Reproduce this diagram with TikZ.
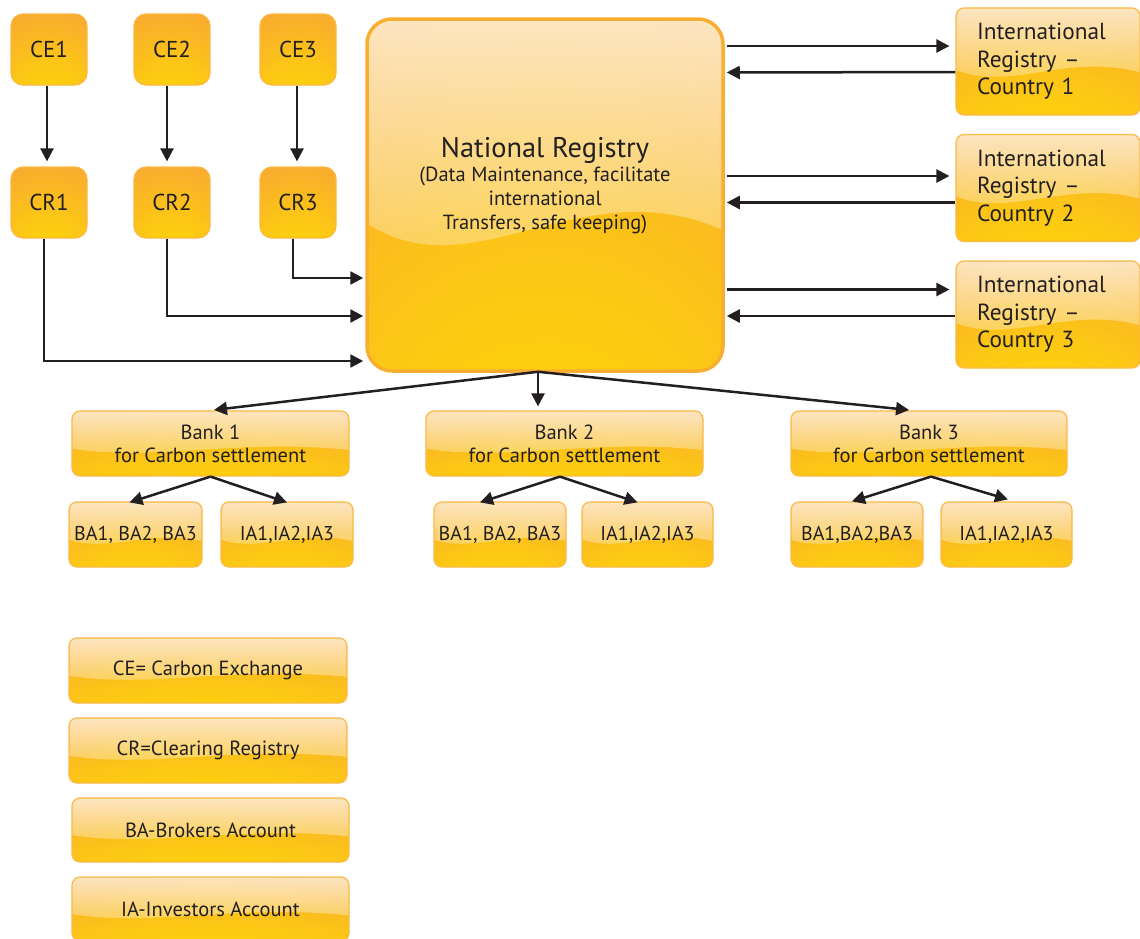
\documentclass[tikz,border=0pt]{standalone}
\usepackage{fontspec}
\setmainfont{PT Sans}
\usetikzlibrary{arrows.meta,fadings,calc}
\definecolor{orA}{HTML}{F8A833}
\definecolor{yeC}{HTML}{FFDD00}
\definecolor{bord}{HTML}{FBB843}
\definecolor{nrbord}{HTML}{F9AE30}
\definecolor{txt}{HTML}{231F20}
\pgfdeclareradialshading{glow}{\pgfpoint{0bp}{-50bp}}{color(0bp)=(yeC); color(28bp)=(yeC!55!orA); color(55bp)=(orA); color(100bp)=(orA)}
\tikzfading[name=glossfade, top color=transparent!30, bottom color=transparent!80]
\tikzset{
  base/.style={inner sep=0pt, text=txt, align=center, draw=bord, line width=1.2pt},
  glowfill/.style={path picture={\shade[shading=glow] (path picture bounding box.south west) rectangle (path picture bounding box.north east);}},
  glossy/.style={path picture={
    \shade[shading=glow] (path picture bounding box.south west) rectangle (path picture bounding box.north east);
    \fill[white, path fading=glossfade, sharp corners] let \p1=(path picture bounding box.south west), \p2=(path picture bounding box.north east) in
      (\x1,\y2) -- (\x1,{\y1+0.42*(\y2-\y1)}) .. controls ({\x1+0.3*(\x2-\x1)},{\y1+0.22*(\y2-\y1)}) and ({\x1+0.6*(\x2-\x1)},{\y1+0.58*(\y2-\y1)}) .. (\x2,{\y1+0.4*(\y2-\y1)}) -- (\x2,\y2) -- cycle;
  }},
  sqbox/.style={base, glowfill, rounded corners=12pt, minimum width=76pt, minimum height=71pt, font=\fontsize{23}{27}\selectfont},
  nrbox/.style={base, glossy, draw=nrbord, line width=3.5pt, rounded corners=25pt, minimum width=356pt, minimum height=352pt, font=\fontsize{20.5}{24}\selectfont},
  irbox/.style={base, glossy, rounded corners=8pt, minimum width=184pt, minimum height=107pt, text width=142pt, align=left, font=\fontsize{23.3}{27.5}\selectfont},
  bankbox/.style={base, glossy, rounded corners=8pt, minimum width=277pt, minimum height=65pt, font=\fontsize{20.5}{23}\selectfont},
  accbox/.style={base, glossy, rounded corners=8pt, minimum width=132pt, minimum height=65pt, font=\fontsize{20}{23}\selectfont},
  legbox/.style={base, glossy, rounded corners=8pt, minimum width=277pt, minimum height=64pt, font=\fontsize{20.5}{23}\selectfont},
  arr/.style={draw=txt, line width=2.5pt, -{Triangle[length=13pt,width=13pt]}},
}
\begin{document}
\begin{tikzpicture}[x=1pt,y=-1pt]
\useasboundingbox (0,0) rectangle (1140,938);
% top squares
\node[sqbox] (ce1) at (49,49.5) {CE1};
\node[sqbox] (ce2) at (172,49.5) {CE2};
\node[sqbox] (ce3) at (298,49.5) {CE3};
\node[sqbox] (cr1) at (49,202.5) {CR1};
\node[sqbox] (cr2) at (172,202.5) {CR2};
\node[sqbox] (cr3) at (298,202.5) {CR3};
% national registry
\node[nrbox] (nr) at (545,195) {{\fontsize{28.4}{32}\selectfont National Registry}\\
  (Data Maintenance, facilitate\\
  international\\
  Transfers, safe keeping)\\[0pt]\rule{0pt}{0pt}};
% international registries
\node[irbox] (ir1) at (1048,61.5) {International\\Registry --\\Country 1};
\node[irbox] (ir2) at (1048,188) {International\\Registry --\\Country 2};
\node[irbox] (ir3) at (1048,314.5) {International\\Registry --\\Country 3};
% banks
\node[bankbox] (bank1) at (210.5,443.5) {Bank 1\\for Carbon settlement};
\node[bankbox] (bank2) at (564.5,443.5) {Bank 2\\for Carbon settlement};
\node[bankbox, minimum width=276pt] (bank3) at (929,443.5) {Bank 3\\for Carbon settlement};
% accounts
\node[accbox, minimum width=133pt] (ba1) at (135.5,534.5) {BA1, BA2, BA3};
\node[accbox] (ia1) at (287,534.5) {IA1,IA2,IA3};
\node[accbox] (ba2) at (500,534.5) {BA1, BA2, BA3};
\node[accbox, minimum width=131pt] (ia2) at (647.5,534.5) {IA1,IA2,IA3};
\node[accbox] (ba3) at (857,534.5) {BA1,BA2,BA3};
\node[accbox, minimum width=131pt] (ia3) at (1006.5,534.5) {IA1,IA2,IA3};
% legend
\node[legbox, minimum width=278pt, minimum height=65pt] (leg1) at (208,670.5) {CE= Carbon Exchange};
\node[legbox, minimum width=278pt, minimum height=65pt] (leg2) at (208,750.5) {CR=Clearing Registry};
\node[legbox] (leg3) at (210.5,830) {BA-Brokers Account};
\node[legbox] (leg4) at (210.5,909) {IA-Investors Account};
% CE -> CR
\draw[arr, shorten >=5pt] ([xshift=-2pt]ce1.south) -- ([xshift=-2pt]cr1.north);
\draw[arr, shorten >=5pt] ([xshift=-5pt]ce2.south) -- ([xshift=-5pt]cr2.north);
\draw[arr, shorten >=5pt] ([xshift=-1pt]ce3.south) -- ([xshift=-1pt]cr3.north);
% CR -> NR
\draw[arr, shorten >=2pt] ([xshift=-5pt]cr3.south) |- ([yshift=-83pt]nr.west);
\draw[arr, shorten >=2pt] ([xshift=-5pt]cr2.south) |- ([yshift=-121pt]nr.west);
\draw[arr, shorten >=2pt] ([xshift=-5pt]cr1.south) |- ([yshift=-166pt]nr.west);
% NR <-> IR
\draw[arr, shorten >=6pt] ([xshift=2pt,yshift=149pt]nr.east) -- ([yshift=15.5pt]ir1.west);
\draw[arr, shorten >=2pt] ([yshift=-10.5pt]ir1.west) -- ([yshift=122.5pt]nr.east);
\draw[arr, shorten >=6pt] ([xshift=2pt,yshift=19pt]nr.east) -- ([yshift=12pt]ir2.west);
\draw[arr, shorten >=2pt] ([yshift=-14.5pt]ir2.west) -- ([yshift=-7.5pt]nr.east);
\draw[arr, shorten >=6pt] ([xshift=2pt,yshift=-94.5pt]nr.east) -- ([yshift=25pt]ir3.west);
\draw[arr, shorten >=2pt] ([yshift=-1.5pt]ir3.west) -- ([yshift=-121pt]nr.east);
% NR -> banks
\coordinate (nrb) at ([xshift=-7pt,yshift=1pt]nr.south);
\draw[arr, shorten >=4pt] (nrb) -- ([xshift=-0.5pt]bank1.north);
\draw[arr, shorten >=4pt] (nrb) -- (nrb |- bank2.north);
\draw[arr, shorten >=4pt] (nrb) -- ([xshift=-16pt]bank3.north);
% banks -> accounts
\draw[arr] (bank1.south) -- ([xshift=-6pt,yshift=-1pt]ba1.north);
\draw[arr] (bank1.south) -- ([yshift=-1pt]ia1.north);
\draw[arr] ([xshift=-4.5pt]bank2.south) -- ([xshift=-20pt,yshift=-1pt]ba2.north);
\draw[arr] ([xshift=-4.5pt]bank2.south) -- ([xshift=-10pt,yshift=-1pt]ia2.north);
\draw[arr] ([xshift=2pt]bank3.south) -- ([xshift=-5pt]ba3.north);
\draw[arr] ([xshift=2pt]bank3.south) -- ([xshift=1.5pt,yshift=2pt]ia3.north);
\end{tikzpicture}
\end{document}
